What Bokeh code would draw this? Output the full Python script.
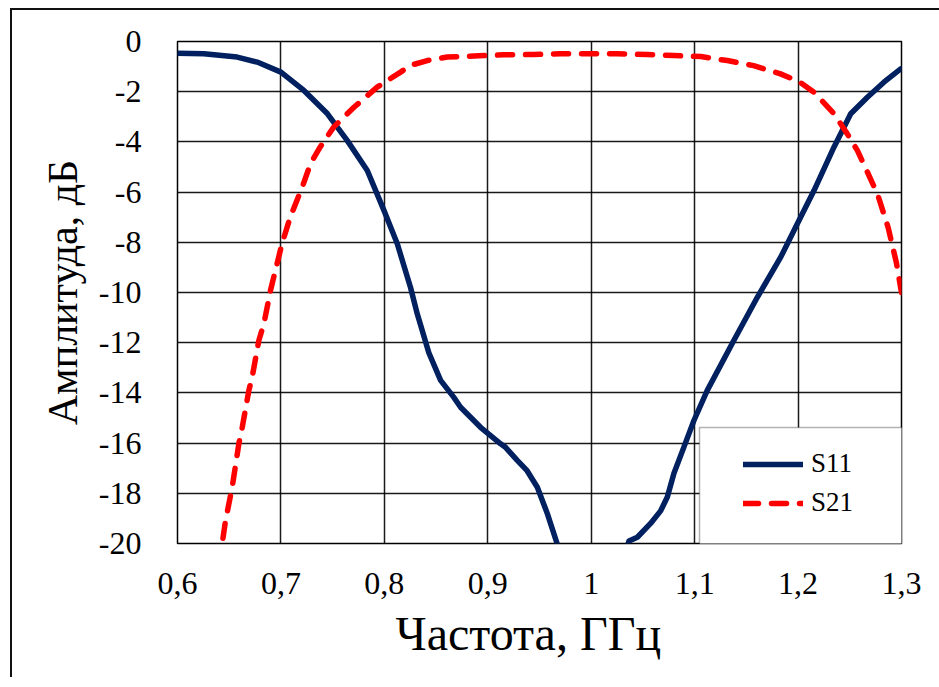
from bokeh.plotting import figure
from bokeh.models import (FixedTicker, Range1d, Legend, LegendItem, BoxAnnotation, Title)
from bokeh.embed import file_html
from bokeh.resources import INLINE

# ---- data ----
s11_freq = [0.600, 0.6255, 0.6577, 0.677, 0.700, 0.7222, 0.745, 0.764, 0.7835, 0.7996,
            0.8125, 0.8253, 0.8318, 0.843, 0.8544, 0.867, 0.8737, 0.893, 0.9027, 0.9124,
            0.917, 0.9285, 0.938, 0.9479, 0.9575, 0.967, 0.980, 1.000, 1.020, 1.0365,
            1.0446, 1.0574, 1.0671, 1.0736, 1.080, 1.0897, 1.0993, 1.1122, 1.138, 1.1606,
            1.1832, 1.1993, 1.2154, 1.2348, 1.2509, 1.267, 1.283, 1.2992]
s11_db = [-0.47, -0.49, -0.62, -0.82, -1.22, -1.95, -2.88, -3.94, -5.14, -6.73,
          -8.06, -9.8, -10.85, -12.4, -13.5, -14.17, -14.57, -15.37, -15.7, -16.03,
          -16.16, -16.69, -17.1, -17.76, -18.8, -20.0, -22.0, -23.5, -22.0, -19.9,
          -19.75, -19.2, -18.7, -18.15, -17.2, -16.15, -15.1, -13.9, -11.9, -10.19,
          -8.59, -7.26, -5.94, -4.2, -2.88, -2.22, -1.62, -1.09]

s21_freq = [0.636, 0.6432, 0.6464, 0.6529, 0.6593, 0.6626, 0.669, 0.6722, 0.6787, 0.6835,
            0.6899, 0.693, 0.701, 0.709, 0.7206, 0.7286, 0.738, 0.751, 0.7706, 0.793,
            0.8157, 0.8253, 0.8415, 0.8608, 0.8866, 0.9153, 0.944, 0.970, 0.9977, 1.025,
            1.054, 1.080, 1.106, 1.1316, 1.157, 1.183, 1.201, 1.2154, 1.2348, 1.2476,
            1.2573, 1.267, 1.277, 1.287, 1.295, 1.300]
s21_db = [-22.0, -20.0, -19.1, -17.75, -16.03, -15.37, -13.9, -13.37, -11.9, -11.25,
          -9.92, -9.4, -8.06, -7.0, -5.8, -4.87, -4.2, -3.41, -2.62, -1.82,
          -1.22, -0.95, -0.76, -0.62, -0.58, -0.53, -0.52, -0.49, -0.49, -0.49,
          -0.52, -0.56, -0.60, -0.76, -0.96, -1.29, -1.6, -2.02, -2.88, -3.68,
          -4.34, -5.2, -6.1, -7.4, -8.8, -10.0]

x_ticks = [0.6, 0.7, 0.8, 0.9, 1.0, 1.1, 1.2, 1.3]
x_tick_labels = ["0,6", "0,7", "0,8", "0,9", "1", "1,1", "1,2", "1,3"]
y_ticks = [0, -2, -4, -6, -8, -10, -12, -14, -16, -18, -20]
y_tick_labels = [str(v) for v in y_ticks]

series_names = ["S11", "S21"]
x_title = "Частота, ГГц"
y_title = "Амплитуда, дБ"

FONT = "Liberation Serif"

# figure sits inside an outer picture frame (left/top border drawn with CSS)
p = figure(width=927, height=677, output_backend="svg", toolbar_location=None,
           x_range=Range1d(0.6, 1.3), y_range=Range1d(-20, 0),
           min_border_left=165, min_border_right=38, min_border_top=31,
           min_border_bottom=134)
p.frame_width = 724
p.frame_height = 502
p.margin = (8, 0, 0, 10)
p.styles = {"border-left": "2px solid #111", "border-top": "2px solid #111"}
p.background_fill_color = "white"
p.border_fill_color = "white"
p.outline_line_color = "black"
p.outline_line_width = 1.5

p.xaxis.ticker = FixedTicker(ticks=x_ticks)
p.yaxis.ticker = FixedTicker(ticks=y_ticks)
p.xaxis.major_label_overrides = {t: l for t, l in zip(x_ticks, x_tick_labels)}
p.yaxis.major_label_overrides = {t: l for t, l in zip(y_ticks, y_tick_labels)}

for ax in (p.xaxis, p.yaxis):
    ax.axis_line_color = None
    ax.major_tick_line_color = None
    ax.minor_tick_line_color = None
    ax.major_label_text_font = FONT
    ax.major_label_text_font_size = "32px"
    ax.major_label_text_color = "black"
    ax.axis_label_text_font = FONT
    ax.axis_label_text_font_style = "normal"
    ax.axis_label_text_color = "black"

p.yaxis.axis_label_text_font_size = "42px"
p.xaxis.major_label_standoff = 23
p.yaxis.major_label_standoff = 30
p.yaxis.axis_label = y_title
p.yaxis.axis_label_standoff = 10

# x-axis title (slightly left of centre, as in the original)
xt = Title(text=x_title, align="left", offset=218, text_font=FONT,
           text_font_style="normal", text_font_size="48px", text_color="black",
           standoff=16)
p.add_layout(xt, "below")

p.xgrid.ticker = FixedTicker(ticks=x_ticks)
p.ygrid.ticker = FixedTicker(ticks=y_ticks)
for g in (p.xgrid, p.ygrid):
    g.grid_line_color = "black"
    g.grid_line_width = 1.5
    g.grid_line_alpha = 0.9

r1 = p.line(s11_freq, s11_db, line_color="#002060", line_width=5.5, line_join="round",
            line_cap="round")
r2 = p.line(s21_freq, s21_db, line_color="#ff0000", line_width=5.5, line_dash="15 13",
            line_cap="round", line_join="round")

# legend frame (canvas coordinates of the box around the legend)
legend_box = BoxAnnotation(left=685, right=889, top=415, bottom=533,
                           left_units="canvas", right_units="canvas",
                           top_units="canvas", bottom_units="canvas",
                           fill_color="white", fill_alpha=1.0,
                           line_color="black", line_width=1.5)
p.add_layout(legend_box)

legend = Legend(items=[LegendItem(label=series_names[0], renderers=[r1]),
                       LegendItem(label=series_names[1], renderers=[r2])],
                location=(566, 25), padding=0, margin=0, spacing=8,
                glyph_width=60, glyph_height=30, label_standoff=8,
                label_text_font=FONT, label_text_font_size="27px",
                label_text_color="black", border_line_color=None,
                background_fill_alpha=0.0)
p.add_layout(legend)

open("out.html", "w").write(file_html(p, INLINE))
